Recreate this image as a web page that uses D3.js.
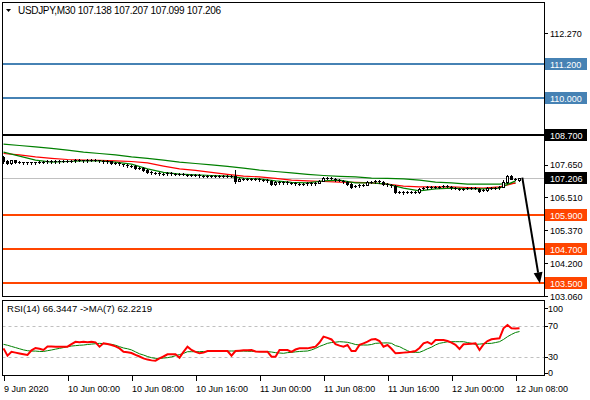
<!DOCTYPE html>
<meta charset="utf-8">
<script src="https://d3js.org/d3.v7.min.js"></script>
<style>
  body { margin: 0; background: #fff; }
</style>
<body>
<div id="chart"></div>
<script>

// USDJPY M30 bars, first bar 9 Jun 2020 16:00
var opens = [107.93,107.79,107.72,107.82,107.75,107.75,107.72,107.75,107.72,107.75,
  107.75,107.75,107.79,107.75,107.79,107.75,107.79,107.79,107.79,107.82,
  107.82,107.79,107.82,107.82,107.82,107.79,107.75,107.79,107.72,107.72,
  107.68,107.65,107.61,107.61,107.54,107.54,107.47,107.40,107.37,107.37,
  107.33,107.33,107.37,107.33,107.33,107.33,107.30,107.30,107.30,107.30,
  107.26,107.26,107.23,107.26,107.26,107.26,107.26,107.23,107.26,107.09,
  107.16,107.16,107.16,107.16,107.16,107.12,107.12,107.09,106.98,107.05,
  107.02,107.05,107.02,107.02,106.98,106.98,106.98,107.02,106.98,107.02,
  107.09,107.19,107.19,107.16,107.12,107.09,107.05,106.98,106.88,106.91,
  106.95,106.95,107.05,107.05,107.09,107.05,106.98,106.95,106.91,106.70,
  106.70,106.67,106.70,106.70,106.70,106.81,106.84,106.88,106.88,106.88,
  106.88,106.91,106.88,106.84,106.81,106.81,106.81,106.84,106.84,106.81,
  106.74,106.77,106.84,106.84,106.84,106.88,107.05,107.26,107.16,107.138];
var highs = [107.98,107.82,107.84,107.84,107.79,107.77,107.77,107.77,107.77,107.78,
  107.78,107.81,107.81,107.81,107.81,107.82,107.82,107.82,107.85,107.85,
  107.84,107.85,107.85,107.85,107.84,107.81,107.81,107.80,107.75,107.74,
  107.70,107.67,107.64,107.63,107.57,107.56,107.49,107.42,107.40,107.39,
  107.36,107.39,107.39,107.36,107.36,107.35,107.33,107.33,107.33,107.32,
  107.29,107.28,107.28,107.29,107.29,107.29,107.28,107.28,107.47,107.18,
  107.19,107.19,107.19,107.19,107.18,107.15,107.14,107.11,107.07,107.07,
  107.07,107.07,107.05,107.04,107.01,107.01,107.04,107.04,107.04,107.11,
  107.23,107.22,107.21,107.18,107.14,107.11,107.07,107.00,106.93,106.97,
  106.98,107.07,107.08,107.12,107.11,107.07,107.00,106.97,106.93,106.73,
  106.72,106.72,106.73,106.74,106.83,106.86,106.90,106.91,106.91,106.91,
  106.93,106.93,106.90,106.86,106.84,106.84,106.86,106.87,106.86,106.83,
  106.79,106.86,106.87,106.87,106.90,107.12,107.30,107.28,107.19,107.207];
var lows = [107.72,107.70,107.70,107.73,107.72,107.70,107.70,107.69,107.70,107.72,
  107.72,107.73,107.73,107.73,107.73,107.74,107.76,107.76,107.77,107.79,
  107.77,107.77,107.79,107.79,107.76,107.72,107.73,107.70,107.69,107.66,
  107.62,107.58,107.58,107.52,107.51,107.44,107.37,107.34,107.34,107.30,
  107.30,107.31,107.31,107.30,107.30,107.28,107.27,107.27,107.27,107.24,
  107.23,107.21,107.21,107.23,107.23,107.23,107.21,107.21,107.02,107.07,
  107.13,107.13,107.13,107.13,107.10,107.09,107.06,106.96,106.96,106.99,
  106.99,106.99,106.99,106.96,106.95,106.95,106.96,106.96,106.96,107.00,
  107.07,107.16,107.14,107.10,107.07,107.03,106.96,106.85,106.86,106.89,
  106.92,106.93,107.02,107.03,107.03,106.96,106.92,106.89,106.67,106.67,
  106.64,106.65,106.67,106.67,106.68,106.79,106.82,106.85,106.85,106.85,
  106.86,106.86,106.82,106.79,106.78,106.78,106.79,106.81,106.79,106.70,
  106.72,106.75,106.81,106.81,106.82,106.86,107.03,107.14,107.12,107.099];
var closes = [107.79,107.72,107.82,107.75,107.75,107.72,107.75,107.72,107.75,107.75,
  107.75,107.79,107.75,107.79,107.75,107.79,107.79,107.79,107.82,107.82,
  107.79,107.82,107.82,107.82,107.79,107.75,107.79,107.72,107.72,107.68,
  107.65,107.61,107.61,107.54,107.54,107.47,107.40,107.37,107.37,107.33,
  107.33,107.37,107.33,107.33,107.33,107.30,107.30,107.30,107.30,107.26,
  107.26,107.23,107.26,107.26,107.26,107.26,107.23,107.26,107.09,107.16,
  107.16,107.16,107.16,107.16,107.12,107.12,107.09,106.98,107.05,107.02,
  107.05,107.02,107.02,106.98,106.98,106.98,107.02,106.98,107.02,107.09,
  107.19,107.19,107.16,107.12,107.09,107.05,106.98,106.88,106.91,106.95,
  106.95,107.05,107.05,107.09,107.05,106.98,106.95,106.91,106.70,106.70,
  106.67,106.70,106.70,106.70,106.81,106.84,106.88,106.88,106.88,106.88,
  106.91,106.88,106.84,106.81,106.81,106.81,106.84,106.84,106.81,106.74,
  106.77,106.84,106.84,106.84,106.88,107.05,107.26,107.16,107.14,107.206];

// moving averages on price, one value every 4 bars
var maStep = 4;
var maSlow = [108.38,108.33,108.28,108.23,108.17,108.10,108.05,108.00,107.93,107.88,
  107.82,107.75,107.70,107.65,107.60,107.54,107.47,107.42,107.37,107.32,
  107.28,107.25,107.23,107.19,107.18,107.16,107.12,107.05,107.02,106.98,
  106.98,106.98,107.01];
var maMid = [108.05,108.00,107.93,107.88,107.84,107.82,107.81,107.79,107.77,107.72,
  107.61,107.51,107.46,107.39,107.32,107.26,107.23,107.18,107.12,107.09,
  107.07,107.05,107.04,107.02,106.98,106.91,106.88,106.88,106.88,106.86,
  106.84,106.88,107.02];
var maFast = [108.10,107.96,107.82,107.75,107.77,107.79,107.79,107.75,107.68,107.51,
  107.39,107.33,107.30,107.28,107.26,107.19,107.16,107.09,107.04,107.02,
  107.09,107.12,107.02,107.02,106.98,106.84,106.74,106.81,106.84,106.82,
  106.81,106.84,107.09];

// RSI(14) and its MA(7), one value per bar
var rsi = [40.5,31,36,35,34,33,32,38,41,40,
  38.5,43,43,42.5,42.7,42.7,42.7,46,49,48.5,
  49,48.5,49,48.3,42.7,47,46,44.8,43,40.5,
  36.2,35.5,34.5,32,30,27.6,26,25,24.6,27.6,
  30,32.8,33,32.8,28.5,36,42.7,38.4,36,34.1,
  35,37.1,37.1,37,37.2,37.1,37.1,31,37,37.5,
  38,38,38.4,36.5,36.2,36.2,36.2,29.8,29.8,38.4,
  38.4,38.4,36,39,40.5,40.5,40.5,41.5,42.7,48,
  55.6,54,52,46,44,42.7,44.8,37.1,37.1,45,
  47,49.1,52,52.5,50,42.7,44.8,40,34.1,34.5,
  35,35.4,36,37,41,47,48.5,46,51.3,51.3,
  51.3,50,48,45,39.7,45.7,46,46.5,47,38.4,
  45.7,50,52.2,53,53.4,66.4,70.6,66.4,66,66.3];
var rsiMa = [45.7,44.5,43,41.5,40,38.5,37.5,37,37,36.5,
  36.5,37.5,38.4,39.5,40.5,41.5,42.7,43.5,44,44.5,
  44.8,45.5,46,46.5,47,46.5,46,45.7,44.5,42.7,
  41,40,38.5,36,33.5,31.9,30,28.5,27.6,27.6,
  28,28.5,29.5,31,32.5,34,36.2,36.2,36.2,36.2,
  36.5,36.5,37,37,37,37,37,37.1,37,37,
  37,36.8,36.7,36.5,36.4,36.2,36.2,35.8,35,34.5,
  34.1,35,35.4,36,36.5,36.8,37.1,38.5,40.5,43,
  45,47,48,48.5,49.1,48.8,48.3,47,45.5,44.8,
  44.8,44.8,45.5,47,47.3,47.5,47.6,47,44,42.7,
  40,37.5,35.5,35.4,35.4,37.5,40,42,45,47,
  48,49,49.1,49.1,49.1,49.1,48,47,45.7,46,
  46.5,46.8,47,48,49.1,52,55.6,58.5,61,62.2];
var rsiText = "66.3447", rsiMaText = "62.2219";

var levelsBlue = [111.2, 110.0];
var levelsBlack = [108.7];
var levelsOrange = [105.9, 104.7, 103.5];
var lastPrice = 107.206;
var priceTicks = [112.27, 111.13, 109.98, 108.81, 107.65, 106.51, 105.37, 104.2, 103.06];
var rsiTicks = [100, 70, 30, 0];
var timeTicks = ["2020-06-09T16:00Z", "2020-06-10T00:00Z", "2020-06-10T08:00Z", "2020-06-10T16:00Z",
  "2020-06-11T00:00Z", "2020-06-11T08:00Z", "2020-06-11T16:00Z", "2020-06-12T00:00Z", "2020-06-12T08:00Z"];
var timeLabels = ["9 Jun 2020", "10 Jun 00:00", "10 Jun 08:00", "10 Jun 16:00",
  "11 Jun 00:00", "11 Jun 08:00", "11 Jun 16:00", "12 Jun 00:00", "12 Jun 08:00"];
// forecast arrow: from (bar, price) to (bar, price)
var arrowFrom = [129.7, 107.206], arrowTo = [134.1, 103.5];

var W = 590, H = 400;
var font = "'Liberation Sans', Arial, sans-serif";
var main = {left: 2.5, right: 544.5, top: 2.5, bottom: 296.5};
var sub = {top: 300.5, bottom: 375.5};

var svg = d3.select("#chart").append("svg")
    .attr("width", W).attr("height", H)
    .style("font-family", font);

var t0 = new Date(timeTicks[0]);
var x = d3.scaleUtc()
    .domain([t0, new Date(timeTicks[timeTicks.length - 1])])
    .range([3.5, 515.5]);
function barX(i) { return x(new Date(t0.getTime() + i * 30 * 60000)); }

var y = d3.scaleLinear().domain([103.06, 112.27]).range([296, 33]);
var yr = d3.scaleLinear().domain([0, 100]).range([379.75, 302.25]);

var defs = svg.append("defs");
defs.append("clipPath").attr("id", "clipMain").append("rect")
    .attr("x", main.left).attr("y", main.top)
    .attr("width", main.right - main.left).attr("height", main.bottom - main.top);
defs.append("clipPath").attr("id", "clipSub").append("rect")
    .attr("x", main.left).attr("y", sub.top)
    .attr("width", main.right - main.left).attr("height", sub.bottom - sub.top);

var gMain = svg.append("g").attr("clip-path", "url(#clipMain)");

// horizontal levels
function level(v, color, w) {
  var yy = Math.round(y(v)) + (w % 2 ? 0.5 : 0);
  gMain.append("line")
      .attr("x1", main.left).attr("x2", main.right)
      .attr("y1", yy).attr("y2", yy)
      .attr("stroke", color).attr("stroke-width", w);
}
level(lastPrice, "#c0c0c0", 1);
levelsBlue.forEach(function (v) { level(v, "#4682b4", 2); });
levelsBlack.forEach(function (v) { level(v, "#000", 2); });
levelsOrange.forEach(function (v) { level(v, "#ff4500", 2); });

// moving averages
function maLine(vals, color) {
  gMain.append("path")
      .datum(vals)
      .attr("fill", "none")
      .attr("stroke", color)
      .attr("stroke-width", 1.2)
      .attr("d", d3.line()
        .x(function (d, k) { return barX(k * maStep); })
        .y(function (d) { return y(d); }));
}
maLine(maSlow, "#008000");
maLine(maMid, "#ff0000");
maLine(maFast, "#008000");

// candles
var candles = gMain.append("g").attr("shape-rendering", "crispEdges");
closes.forEach(function (c, i) {
  var o = opens[i], cx = barX(i);
  var yh = Math.round(y(highs[i])), yl = Math.round(y(lows[i]));
  var yt = Math.round(y(Math.max(o, c))), yb = Math.round(y(Math.min(o, c)));
  candles.append("line")
      .attr("x1", cx).attr("x2", cx).attr("y1", yh).attr("y2", yl + 1)
      .attr("stroke", "#000");
  if (yb - yt < 2) {
    candles.append("rect")
        .attr("x", cx - 1.5).attr("y", yt).attr("width", 3).attr("height", 1)
        .attr("fill", "#000");
  } else if (c < o) {
    candles.append("rect")
        .attr("x", cx - 1.5).attr("y", yt).attr("width", 3).attr("height", yb - yt + 1)
        .attr("fill", "#000");
  } else {
    candles.append("rect")
        .attr("x", cx - 1).attr("y", yt + 0.5).attr("width", 2).attr("height", yb - yt)
        .attr("fill", "#fff").attr("stroke", "#000");
  }
});

// arrow
(function () {
  var x1 = barX(arrowFrom[0]), y1 = y(arrowFrom[1]);
  var x2 = barX(arrowTo[0]), y2 = y(arrowTo[1]);
  var a = Math.atan2(y2 - y1, x2 - x1), len = 11, hw = 4.5;
  var bx = x2 - len * Math.cos(a), by = y2 - len * Math.sin(a);
  gMain.append("line")
      .attr("x1", x1).attr("y1", y1).attr("x2", bx).attr("y2", by)
      .attr("stroke", "#000").attr("stroke-width", 2);
  gMain.append("path")
      .attr("d", "M" + x2 + "," + y2 +
        "L" + (bx + hw * Math.sin(a)) + "," + (by - hw * Math.cos(a)) +
        "L" + (bx - hw * Math.sin(a)) + "," + (by + hw * Math.cos(a)) + "Z")
      .attr("fill", "#000");
})();

// RSI panel
var gSub = svg.append("g").attr("clip-path", "url(#clipSub)");
[70, 30].forEach(function (v) {
  var yy = Math.round(yr(v)) + 0.5;
  gSub.append("line")
      .attr("x1", main.left).attr("x2", main.right).attr("y1", yy).attr("y2", yy)
      .attr("stroke", "#c0c0c0").attr("stroke-dasharray", "3,3");
});
var rsiLine = d3.line().x(function (d, i) { return barX(i); }).y(function (d) { return yr(d); });
gSub.append("path").datum(rsiMa).attr("fill", "none").attr("stroke", "#008000")
    .attr("stroke-width", 1).attr("d", rsiLine);
gSub.append("path").datum(rsi).attr("fill", "none").attr("stroke", "#ff0000")
    .attr("stroke-width", 2).attr("d", rsiLine);

// frames
var frames = svg.append("g").attr("shape-rendering", "crispEdges")
    .attr("fill", "none").attr("stroke", "#000");
frames.append("rect").attr("x", main.left).attr("y", main.top)
    .attr("width", main.right - main.left).attr("height", main.bottom - main.top);
frames.append("rect").attr("x", main.left).attr("y", sub.top)
    .attr("width", main.right - main.left).attr("height", sub.bottom - sub.top);

// price axis; tick labels hidden under a level tag are skipped
var axis = svg.append("g").attr("font-size", "9px");
var tagged = levelsBlue.concat(levelsBlack, levelsOrange, [lastPrice]);
priceTicks.forEach(function (v) {
  var yy = Math.round(y(v)) + 0.5;
  axis.append("line").attr("x1", main.right).attr("x2", main.right + 3)
      .attr("y1", yy).attr("y2", yy).attr("stroke", "#000").attr("shape-rendering", "crispEdges");
  var covered = tagged.some(function (t) { return Math.abs(y(t) - y(v)) < 11; });
  if (!covered) {
    axis.append("text").attr("x", 550).attr("y", y(v) + 3.5).text(d3.format(".3f")(v));
  }
});
function tag(v, color) {
  var yy = Math.round(y(v));
  axis.append("rect").attr("x", 545).attr("y", yy - 6).attr("width", 42).attr("height", 12)
      .attr("fill", color);
  axis.append("text").attr("x", 550).attr("y", yy + 3.5).attr("fill", "#fff")
      .text(d3.format(".3f")(v));
}
levelsBlue.forEach(function (v) { tag(v, "#4682b4"); });
levelsBlack.forEach(function (v) { tag(v, "#000"); });
levelsOrange.forEach(function (v) { tag(v, "#ff4500"); });
tag(lastPrice, "#000");

// RSI axis
rsiTicks.forEach(function (v) {
  var yy = Math.max(308, Math.min(372.5, yr(v)));
  axis.append("line").attr("x1", main.right).attr("x2", main.right + 3)
      .attr("y1", Math.round(yy) + 0.5).attr("y2", Math.round(yy) + 0.5)
      .attr("stroke", "#000").attr("shape-rendering", "crispEdges");
  axis.append("text").attr("x", 548).attr("y", yy + 3.5).text(v);
});

// time axis
timeTicks.forEach(function (t, k) {
  var xx = Math.round(x(new Date(t))) + 0.5;
  axis.append("line").attr("x1", xx).attr("x2", xx).attr("y1", sub.bottom).attr("y2", sub.bottom + 5)
      .attr("stroke", "#000").attr("shape-rendering", "crispEdges");
  axis.append("text").attr("x", xx - 0.5).attr("y", 392).text(timeLabels[k]);
});

// titles
var last = closes.length - 1;
svg.append("path").attr("d", "M6,9L11,9L8.5,12Z").attr("fill", "#000");
svg.append("text").attr("x", 18).attr("y", 14).attr("font-size", "10px")
    .attr("textLength", 203).attr("lengthAdjust", "spacing")
    .text("USDJPY,M30  " + [opens[last], highs[last], lows[last], closes[last]]
      .map(d3.format(".3f")).join(" "));
svg.append("text").attr("x", 7).attr("y", 312).attr("font-size", "9.5px")
    .attr("textLength", 145).attr("lengthAdjust", "spacing")
    .text("RSI(14) " + rsiText + "  ->MA(7) " + rsiMaText);

</script>
</body>
